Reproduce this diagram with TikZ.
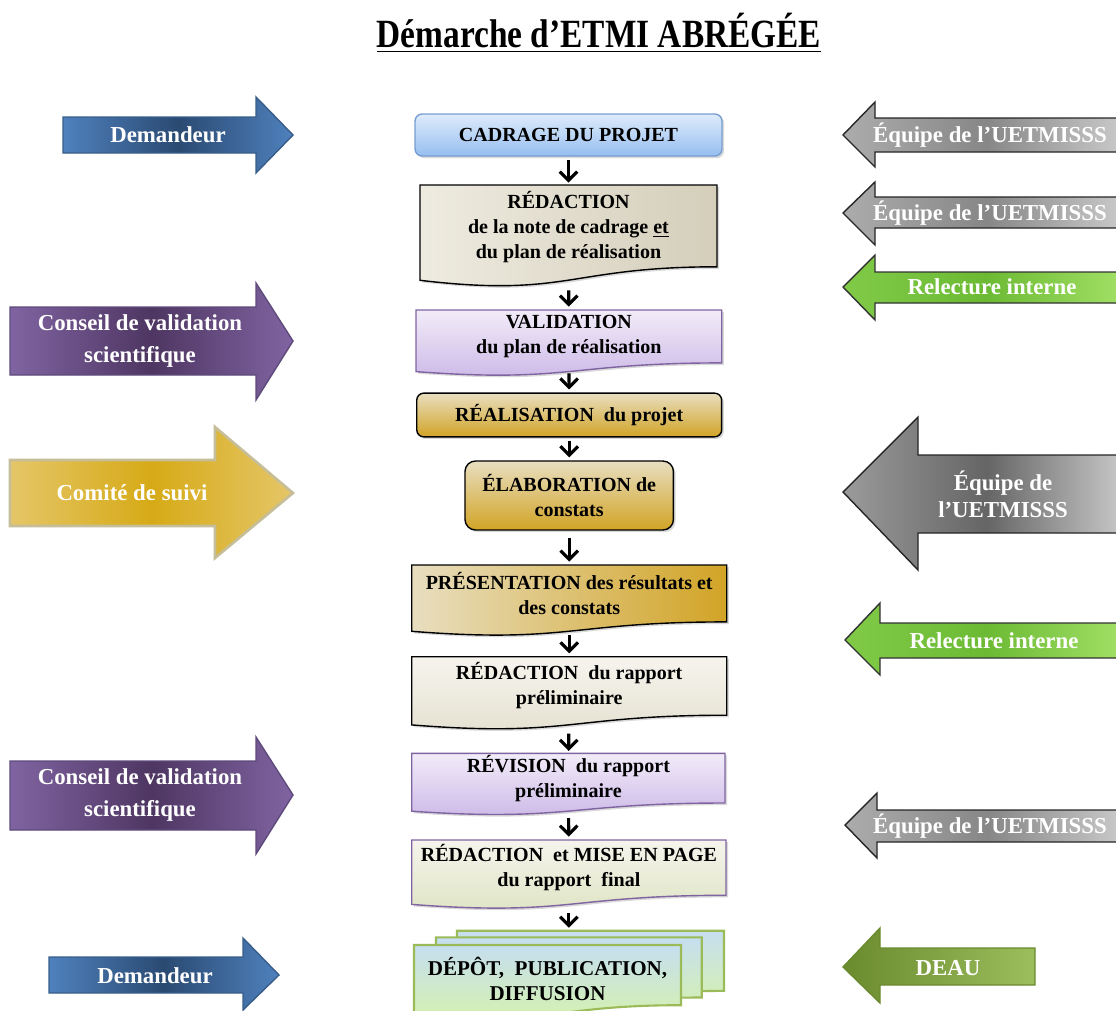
\documentclass[tikz,border=0pt]{standalone}
\usepackage{fontspec}
\setmainfont{Liberation Serif}
\usetikzlibrary{arrows.meta, shadows}
\definecolor{demL}{RGB}{79,129,189}
\definecolor{demD}{RGB}{42,74,114}
\definecolor{demB}{RGB}{56,93,138}
\definecolor{conL}{RGB}{128,100,162}
\definecolor{conD}{RGB}{78,54,98}
\definecolor{conB}{RGB}{94,74,123}
\definecolor{comL}{RGB}{229,198,104}
\definecolor{comD}{RGB}{214,170,22}
\definecolor{comB}{RGB}{198,190,152}
\definecolor{eqL}{RGB}{205,205,205}
\definecolor{eqM}{RGB}{172,172,172}
\definecolor{eqD}{RGB}{135,135,135}
\definecolor{relL}{RGB}{165,226,104}
\definecolor{relM}{RGB}{108,186,52}
\definecolor{relT}{RGB}{128,202,72}
\definecolor{deaL}{RGB}{156,190,92}
\definecolor{deaD}{RGB}{106,138,46}
\definecolor{cadT}{RGB}{222,235,251}
\definecolor{cadD}{RGB}{150,190,240}
\definecolor{cadB}{RGB}{118,158,210}
\definecolor{noteL}{RGB}{238,235,224}
\definecolor{noteR}{RGB}{212,206,186}
\definecolor{violT}{RGB}{242,236,249}
\definecolor{violD}{RGB}{202,182,230}
\definecolor{violB}{RGB}{128,100,162}
\definecolor{goldT}{RGB}{232,222,192}
\definecolor{goldD}{RGB}{210,164,38}
\definecolor{paleT}{RGB}{246,244,237}
\definecolor{paleD}{RGB}{228,224,208}
\definecolor{mepD}{RGB}{221,228,194}
\definecolor{depT}{RGB}{198,222,240}
\definecolor{depD}{RGB}{214,244,168}
\definecolor{depB}{RGB}{155,187,89}

\begin{document}
\begin{tikzpicture}[x=0.02cm, y=-0.02cm, >={Straight Barb[length=5pt, width=10pt]},
    flow/.style={->, line width=1.8pt, shorten <=0.06cm, shorten >=0.06cm},
    boxtxt/.style={font=\fontsize{11.4}{14.2}\selectfont\bfseries, align=center, inner sep=0pt},
    boxshadow/.style={drop shadow={shadow xshift=1.2pt, shadow yshift=-1.2pt, opacity=.3}},
    lefttxt/.style={text=white, font=\fontsize{13}{18}\selectfont\bfseries, align=center},
    righttxt/.style={text=white, font=\fontsize{13}{15.5}\selectfont\bfseries, align=center},
    blockdem/.style={draw=demB, line width=0.8pt, left color=demL, right color=demL, middle color=demD},
    blockcon/.style={draw=conB, line width=0.8pt, left color=conL, right color=conL, middle color=conD},
    blockcom/.style={draw=comB, line width=1.5pt, left color=comL, right color=comL, middle color=comD},
    blockeq/.style={draw=black!85, line width=0.8pt, left color=eqM, right color=eqL, middle color=eqD},
    blockrel/.style={draw=black!80, line width=0.8pt, left color=relT, right color=relL, middle color=relM},
    blockdea/.style={draw=deaD, line width=0.8pt, left color=deaD, right color=deaL},
]
\useasboundingbox (0,0) rectangle (1116,1011);
\clip (0,0) rectangle (1116,1011);

% title
\node[font=\fontsize{19}{22}\selectfont\bfseries, transform shape, yscale=1.2] (title) at (599,33)
    {\underline{Démarche d’ETMI ABRÉGÉE}};

% left side
\draw[blockdem] (63,117) -- (256,117) -- (256,97) -- (293,135) -- (256,173) -- (256,153) -- (63,153) -- cycle;
\node[lefttxt] (dem1) at (168,135) {Demandeur};
\draw[blockcon] (10,307) -- (256,307) -- (256,283) -- (293,341) -- (256,400) -- (256,375) -- (10,375) -- cycle;
\node[lefttxt] (con1) at (140,341) {Conseil de validation\\scientifique};
\draw[blockcom] (10,460) -- (215,460) -- (215,427) -- (293,493) -- (215,558) -- (215,526) -- (10,526) -- cycle;
\node[lefttxt] (com) at (132,493) {Comité de suivi};
\draw[blockcon] (10,761) -- (256,761) -- (256,737) -- (293,795) -- (256,854) -- (256,830) -- (10,830) -- cycle;
\node[lefttxt] (con2) at (140,795) {Conseil de validation\\scientifique};
\draw[blockdem] (49,957) -- (243,957) -- (243,938) -- (279,975) -- (243,1010) -- (243,993) -- (49,993) -- cycle;
\node[lefttxt] (dem2) at (155,976) {Demandeur};

% right side
\draw[blockeq] (1130,118) -- (875,118) -- (875,102) -- (843,135) -- (875,167) -- (875,152) -- (1130,152) -- cycle;
\node[righttxt] (eq1) at (990,135) {Équipe de l’UETMISSS};
\draw[blockeq] (1130,197) -- (875,197) -- (875,182) -- (843,213) -- (875,245) -- (875,228) -- (1130,228) -- cycle;
\node[righttxt] (eq2) at (990,213) {Équipe de l’UETMISSS};
\draw[blockrel] (1130,272) -- (875,272) -- (875,255) -- (843,287) -- (875,320) -- (875,303) -- (1130,303) -- cycle;
\node[righttxt] (rel1) at (992,287) {Relecture interne};
\draw[blockeq, left color=eqM!90!black, middle color=eqD!75!black] (1130,455) -- (918,455) -- (918,417) -- (843,492) -- (918,570) -- (918,533) -- (1130,533) -- cycle;
\node[righttxt] (eq3) at (1003,494) {Équipe de\\l’UETMISSS};
\draw[blockrel] (1130,623) -- (880,623) -- (880,603) -- (845,640) -- (880,675) -- (880,658) -- (1130,658) -- cycle;
\node[righttxt] (rel2) at (994,641) {Relecture interne};
\draw[blockeq] (1130,810) -- (877,810) -- (877,793) -- (845,825) -- (877,858) -- (877,842) -- (1130,842) -- cycle;
\node[righttxt] (eq4) at (990,826) {Équipe de l’UETMISSS};
\draw[blockdea] (1035,948) -- (880,948) -- (880,928) -- (843,967) -- (880,1003) -- (880,985) -- (1035,985) -- cycle;
\node[righttxt] (deau) at (948,968) {DEAU};

% steps
\node[boxtxt, draw=cadB, line width=0.8pt, rounded corners=4pt, top color=cadT, bottom color=cadD,
      minimum width=6.14cm, minimum height=0.84cm, boxshadow] (cad) at (568.5,135) {CADRAGE DU PROJET};

\draw[line width=0.8pt, left color=noteL, right color=noteR, boxshadow]
    (420,185) -- (717,185) -- (717,266.8) .. controls (568.5,266.8) and (568.5,297.9) .. (420,280.3) -- cycle;
\node[boxtxt, minimum width=5.94cm, minimum height=1.64cm] (red) at (568.5,227)
    {RÉDACTION\\de la note de cadrage \underline{et}\\du plan de réalisation};

\draw[draw=violB, line width=0.8pt, top color=violT, bottom color=violD, boxshadow]
    (416,310) -- (721.7,310) -- (721.7,362.9) .. controls (568.9,362.9) and (568.9,383.1) .. (416,371.6) -- cycle;
\node[boxtxt, minimum width=6.11cm, minimum height=1.06cm] (val) at (568.9,336.5)
    {VALIDATION\\du plan de réalisation};

\node[boxtxt, draw, line width=0.8pt, rounded corners=4pt, top color=goldT, bottom color=goldD,
      minimum width=6.1cm, minimum height=0.874cm, boxshadow] (rea) at (569.2,415) {RÉALISATION\ \ du projet};

\node[boxtxt, draw, line width=0.8pt, rounded corners=6pt, top color=goldT, bottom color=goldD,
      minimum width=4.17cm, minimum height=1.38cm, boxshadow] (ela) at (569.2,495.5) {ÉLABORATION de\\constats};

\draw[line width=0.8pt, left color=goldT, right color=goldD, boxshadow]
    (411.7,565) -- (726.7,565) -- (726.7,621.9) .. controls (569.2,621.9) and (569.2,643.6) .. (411.7,631.3) -- cycle;
\node[boxtxt, minimum width=6.3cm, minimum height=1.14cm] (pre) at (569.2,593.5)
    {PRÉSENTATION des résultats et\\des constats};

\draw[line width=0.8pt, top color=paleT, bottom color=paleD, boxshadow]
    (411.7,656.7) -- (726.7,656.7) -- (726.7,715.2) .. controls (569.2,715.2) and (569.2,737.5) .. (411.7,724.9) -- cycle;
\node[boxtxt, minimum width=6.3cm, minimum height=1.17cm] (rap) at (569.2,686)
    {RÉDACTION\ \ du rapport\\préliminaire};

\draw[draw=violB, line width=0.8pt, top color=violT, bottom color=violD, boxshadow]
    (411.7,753.3) -- (725,753.3) -- (725,803) .. controls (568.4,803) and (568.4,821.9) .. (411.7,811.2) -- cycle;
\node[boxtxt, minimum width=6.27cm, minimum height=0.99cm] (rev) at (568.4,779)
    {RÉVISION\ \ du rapport\\préliminaire};

\draw[draw=violB, line width=0.8pt, top color=paleT, bottom color=mepD, boxshadow]
    (411.7,840) -- (726,840) -- (726,895.3) .. controls (568.9,895.3) and (568.9,916.4) .. (411.7,904.4) -- cycle;
\node[boxtxt, minimum width=6.29cm, minimum height=1.11cm] (mep) at (568.9,867.7)
    {RÉDACTION\ \ et MISE EN PAGE\\du rapport\ \ final};

\draw[draw=depB, line width=1.2pt, top color=depT, bottom color=depD]
    (457,930.7) -- (724,930.7) -- (724,990.9) .. controls (590.5,990.9) and (590.5,1013.7) .. (457,1000.7) -- cycle;
\draw[draw=depB, line width=1.2pt, top color=depT, bottom color=depD]
    (436,937.3) -- (701.7,937.3) -- (701.7,997.5) .. controls (568.9,997.5) and (568.9,1020.3) .. (436,1007.3) -- cycle;
\draw[draw=depB, line width=1.2pt, top color=depT, bottom color=depD]
    (414,945) -- (681,945) -- (681,1005.2) .. controls (547.5,1005.2) and (547.5,1028) .. (414,1015) -- cycle;
\node[boxtxt, font=\fontsize{12}{14.5}\selectfont\bfseries, minimum width=5.34cm, minimum height=1.2cm] (dep) at (547.5,979)
    {DÉPÔT,\ \ PUBLICATION,\\DIFFUSION};
\coordinate (depin) at (568.9,930.7);

% connectors
\draw[flow] (cad) -- (red);
\draw[flow, shorten <=0.44cm] (red) -- (val);
\draw[flow, shorten <=0.2cm] (val) -- (rea);
\draw[flow] (rea) -- (ela);
\draw[flow, shorten <=0.14cm] (ela) -- (pre);
\draw[flow, shorten <=0.26cm] (pre) -- (rap);
\draw[flow, shorten <=0.36cm] (rap) -- (rev);
\draw[flow, shorten <=0.28cm] (rev) -- (mep);
\draw[flow, shorten <=0.34cm] (mep) -- (depin);

\end{tikzpicture}
\end{document}
